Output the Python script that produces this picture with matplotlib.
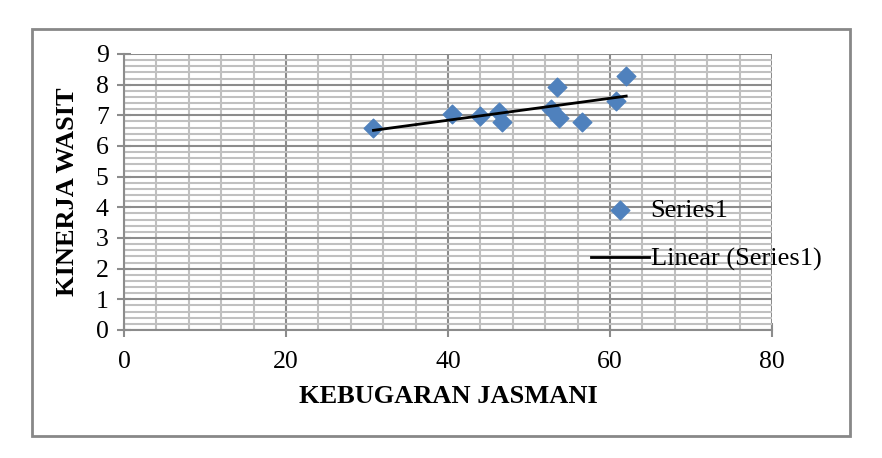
import numpy as np
import matplotlib.pyplot as plt
from matplotlib.patches import Rectangle
from matplotlib.ticker import MultipleLocator

# Data
kebugaran = [30.8, 40.5, 44.0, 46.3, 46.7, 52.7, 53.5, 53.7, 56.6, 60.7, 62.0]
kinerja = [6.6, 7.05, 6.98, 7.1, 6.78, 7.22, 7.93, 6.9, 6.78, 7.47, 8.28]

x = np.array(kebugaran)
y = np.array(kinerja)
slope, intercept = np.polyfit(x, y, 1)
xt = np.array([x.min(), x.max()])

plt.rcParams['font.family'] = ['Liberation Serif', 'DejaVu Serif']

fig = plt.figure(figsize=(8.82, 4.58), dpi=100)
ax = fig.add_axes([124 / 882, 1 - 330 / 458, 648 / 882, 276 / 458])

ax.scatter(x, y, marker='D', s=90, color='#4F81BD', zorder=3, label='Series1')
ax.plot(xt, slope * xt + intercept, color='black', linewidth=2, zorder=4,
        label='Linear (Series1)')

ax.set_xlim(0, 80)
ax.set_ylim(0, 9)
ax.xaxis.set_major_locator(MultipleLocator(20))
ax.xaxis.set_minor_locator(MultipleLocator(4))
ax.yaxis.set_major_locator(MultipleLocator(1))
ax.yaxis.set_minor_locator(MultipleLocator(0.2))
ax.grid(True, which='major', color='#8c8c8c', linewidth=1.5)
ax.grid(True, which='minor', color='#c0c0c0', linewidth=1.5)
ax.set_axisbelow(True)

for s in ['top', 'right']:
    ax.spines[s].set_visible(False)
for s in ['left', 'bottom']:
    ax.spines[s].set_color('#8c8c8c')
    ax.spines[s].set_linewidth(1.5)

ax.tick_params(which='major', direction='inout', length=10, width=1.5,
               color='#8c8c8c', labelsize=18.5, pad=6)
ax.tick_params(which='minor', length=0)
ax.tick_params(axis='x', pad=10)

ax.set_xlabel('KEBUGARAN JASMANI', fontsize=19, fontweight='bold', labelpad=9)
ax.set_ylabel('KINERJA WASIT', fontsize=19, fontweight='bold', labelpad=12)

ax.legend(loc='upper left', bbox_to_anchor=(0.721, 0.475), frameon=False,
          fontsize=19, handlelength=2.2, handletextpad=0.05, labelspacing=0.95,
          borderpad=0, borderaxespad=0)

fig.patches.append(Rectangle((32 / 882, 1 - 436 / 458), 818 / 882, 407 / 458,
                             transform=fig.transFigure, fill=False,
                             edgecolor='#888888', linewidth=2))

fig.savefig('out.png', dpi=100)
